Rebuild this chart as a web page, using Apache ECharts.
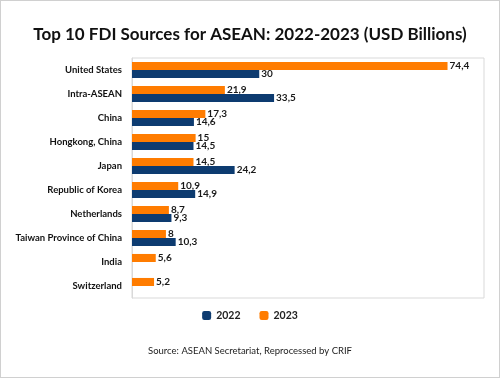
<!DOCTYPE html>
<html><head><meta charset="utf-8">
<script src="https://cdn.jsdelivr.net/npm/echarts@6/dist/echarts.min.js"></script>
<style>html,body{margin:0;padding:0;background:#fff}#c{width:500px;height:378px;box-sizing:border-box;border:1px solid #d0d0d0}</style>
</head><body><div id="c"></div>
<script>
const categories = ['United States','Intra-ASEAN','China','Hongkong, China','Japan','Republic of Korea','Netherlands','Taiwan Province of China','India','Switzerland'];
const values2022 = [30, 33.5, 14.6, 14.5, 24.2, 14.9, 9.3, 10.3, null, null];
const values2023 = [74.4, 21.9, 17.3, 15, 14.5, 10.9, 8.7, 8, 5.6, 5.2];
const seriesNames = ['2022','2023'];

const chart = echarts.init(document.getElementById('c'));
const fmt = p => p.value == null ? '' : String(p.value).replace('.', ',');
const lbl = {show:true, position:'right', distance:2, formatter: fmt, fontFamily:'Lato', fontWeight:'bold', fontSize:10, color:'#1a1a1a'};
chart.setOption({
  animation:false,
  title:{text:'Top 10 FDI Sources for ASEAN: 2022-2023 (USD Billions)', left:'center', top:20,
    textStyle:{fontFamily:'Lato', fontWeight:'bold', fontSize:17, color:'#111'}},
  grid:{left:131, top:57, width:352, height:240, show:true, borderColor:'#d9d9d9', borderWidth:1},
  legend:{data:seriesNames, top:304, left:'center', itemWidth:9, itemHeight:9, itemGap:19,
    textStyle:{fontFamily:'Lato', fontWeight:'bold', fontSize:10.5, color:'#222'}},
  graphic:[{type:'text', left:'center', top:345, style:{text:'Source: ASEAN Secretariat, Reprocessed by CRIF', font:'9.5px Lato', fill:'#222'}}],
  xAxis:{type:'value', min:0, max:83, show:false},
  yAxis:{type:'category', data:categories, inverse:true,
    axisLine:{show:true, lineStyle:{color:'#d9d9d9'}}, axisTick:{show:false},
    axisLabel:{fontFamily:'Lato', fontWeight:'bold', fontSize:9.5, color:'#111', margin:10}},
  series:[
    {name:'2023', type:'bar', data:values2023, barGap:'0%', barCategoryGap:'33%', itemStyle:{color:'#FF7C00'}, label:lbl},
    {name:'2022', type:'bar', data:values2022, barGap:'0%', barCategoryGap:'33%', itemStyle:{color:'#0D3B70'}, label:lbl}
  ]
});
</script></body></html>
